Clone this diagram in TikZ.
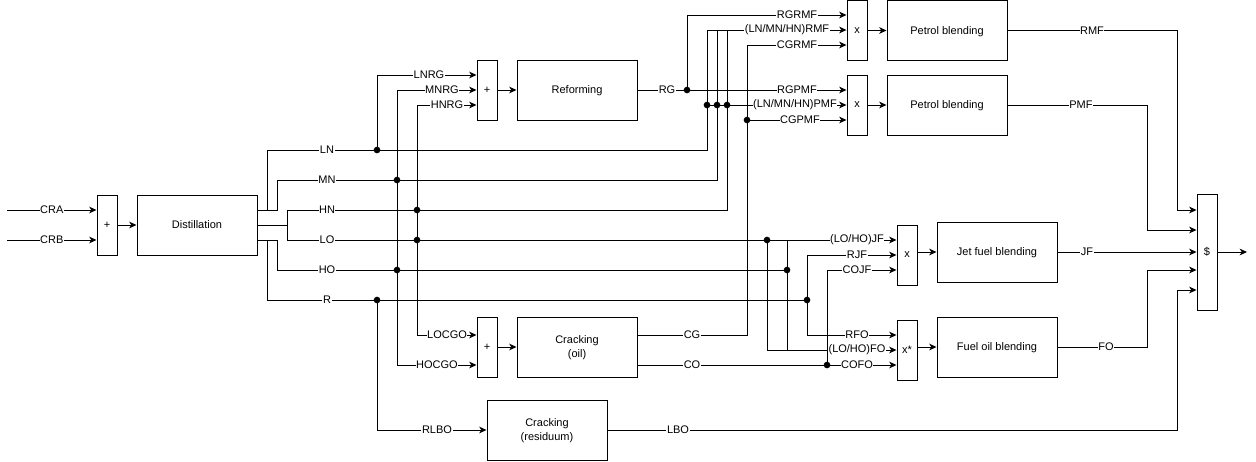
\documentclass[tikz,border=0pt]{standalone}
\usepackage{fontspec}
\setmainfont{Liberation Sans}
\usetikzlibrary{arrows.meta}
\tikzset{
  every picture/.style={x=0.75pt,y=-0.75pt},
  base/.style={line width=0.75pt},
  box/.style={base,draw,fill=white,minimum width=90pt,minimum height=45pt,inner sep=0pt,align=center,text depth=0pt,font=\fontsize{8.25}{10.5}\selectfont},
  opbox/.style={base,draw,fill=white,minimum width=15pt,minimum height=45pt,inner sep=0pt,font=\fontsize{8.25}{10}\selectfont},
  wire/.style={base},
  arr/.style={base,-{Stealth[length=5.5pt,width=5pt,inset=1.6pt]}},
  lbl/.style={fill=white,inner sep=0.4pt,font=\fontsize{8.25}{10}\selectfont},
  dot/.style={circle,fill=black,inner sep=0pt,minimum size=5pt}
}
\begin{document}
\begin{tikzpicture}
\useasboundingbox (0,0) rectangle (1256,461);
% boxes
\node[opbox] (plus1) at (107,225) {+};
\node[box] (dist) at (197,225) {Distillation};
\node[opbox] (plus2) at (487,90) {+};
\node[box] (reform) at (577,90) {Reforming};
\node[opbox] (x1) at (857,30.5) {x};
\node[box] (petrol1) at (947,30.5) {Petrol blending};
\node[opbox] (x2) at (857,105) {x};
\node[box] (petrol2) at (947,105) {Petrol blending};
\node[opbox] (xj) at (907,255) {x};
\node[box] (jet) at (997,252) {Jet fuel blending};
\node[opbox] (xf) at (907,350) {x*};
\node[box] (fuel) at (997,347) {Fuel oil blending};
\node[opbox, minimum height=87pt] (dollar) at (1207,252) {\$};
\node[opbox] (plus3) at (487,347) {+};
\node[box] (crackoil) at (577,347) {Cracking\\(oil)};
\node[box] (crackres) at (547,430) {Cracking\\(residuum)};

% free ends and junctions
\coordinate (cra) at (7,210);
\coordinate (crb) at (7,240);
\coordinate (out) at (1247,252);
\coordinate (jLN) at (377,150);
\coordinate (jMN) at (397,180);
\coordinate (jHN) at (417,210);
\coordinate (jLO) at (417,240);
\coordinate (jHO) at (397,270);
\coordinate (jR) at (377,300);
\coordinate (jRG) at (687,90);
\coordinate (jP1) at (707,105);
\coordinate (jP2) at (717,105);
\coordinate (jP3) at (727,105);
\coordinate (jCG) at (747,120);
\coordinate (jLO2) at (767,240);
\coordinate (jHO2) at (787,270);
\coordinate (jR2) at (807,300);
\coordinate (jCO) at (827,365);

% feed
\draw[arr] (cra) -- (cra -| plus1.west) node[lbl,pos=0.5] {CRA};
\draw[arr] (crb) -- (crb -| plus1.west) node[lbl,pos=0.5] {CRB};
\draw[arr] (plus1.east) -- (dist.west);

% distillation outputs
\draw[wire] (257,210) -- (267,210) -- (267,150) -- (707,150) -- (707,30);
\draw[wire] (257,210) -- (277,210) -- (277,180) -- (717,180) -- (717,30);
\draw[wire] (257,225) -- (287,225) -- (287,210) -- (727,210) -- (727,30);
\draw[arr] (257,225) -- (287,225) -- (287,240) -- (xj.west |- 0,240);
\draw[wire] (257,240) -- (277,240) -- (277,270) -- (jHO2);
\draw[wire] (257,240) -- (267,240) -- (267,300) -- (jR2);
\node[lbl] at (327,150) {LN};
\node[lbl] at (327,180) {MN};
\node[lbl] at (327,210) {HN};
\node[lbl] at (327,240) {LO};
\node[lbl] at (327,270) {HO};
\node[lbl] at (327,300) {R};

% to reforming
\draw[arr] (jLN) -- (377,75) -- (plus2.west |- 0,75);
\draw[arr] (397,365) -- (397,90) -- (plus2.west |- 0,90);
\draw[arr] (417,335) -- (417,105) -- (plus2.west |- 0,105);
\node[lbl] at (429,75) {LNRG};
\node[lbl] at (442,90) {MNRG};
\node[lbl] at (447,105) {HNRG};
\draw[arr] (plus2.east) -- (reform.west);

% to cracking oil
\draw[arr] (jLO) -- (417,335) -- (plus3.west |- 0,335);
\draw[arr] (jHO) -- (397,365) -- (plus3.west |- 0,365);
\node[lbl] at (447,335) {LOCGO};
\node[lbl] at (437,365) {HOCGO};
\draw[arr] (plus3.east) -- (crackoil.west);

% to cracking residuum
\draw[arr] (jR) -- (377,430) -- (crackres.west);
\node[lbl] at (437,430) {RLBO};

% reformate
\draw[arr] (reform.east) -- (x2.west |- 0,90);
\draw[arr] (jRG) -- (687,15) -- (x1.west |- 0,15);
\node[lbl] at (667,90) {RG};
\node[lbl] at (797,90) {RGPMF};
\node[lbl] at (797,15) {RGRMF};

% naphtha to petrol
\draw[arr] (707,30) -- (x1.west |- 0,30);
\draw[arr] (jP1) -- (x2.west |- 0,105);
\node[lbl] at (787,30) {(LN/MN/HN)RMF};
\node[lbl] at (795,105) {(LN/MN/HN)PMF};

% cracked gasoline
\draw[arr] (crackoil.east |- 0,335) -- (747,335) -- (747,45) -- (x1.west |- 0,45);
\draw[arr] (jCG) -- (x2.west |- 0,120);
\node[lbl] at (692,335) {CG};
\node[lbl] at (797,45) {CGRMF};
\node[lbl] at (800,120) {CGPMF};

% cracked oil
\draw[arr] (crackoil.east |- 0,365) -- (xf.west |- 0,365);
\draw[arr] (jCO) -- (827,270) -- (xj.west |- 0,270);
\node[lbl] at (692,365) {CO};
\node[lbl] at (857,365) {COFO};
\node[lbl] at (857,270) {COJF};

% LO / HO / R to jet fuel and fuel oil
\draw[arr] (jLO2) -- (767,350) -- (xf.west |- 0,350);
\draw[wire] (787,240) -- (787,350);
\draw[arr] (807,255) -- (xj.west |- 0,255);
\draw[arr] (807,255) -- (807,335) -- (xf.west |- 0,335);
\node[lbl] at (857,240) {(LO/HO)JF};
\node[lbl] at (857,255) {RJF};
\node[lbl] at (857,335) {RFO};
\node[lbl] at (857,350) {(LO/HO)FO};

% mixers to blending
\draw[arr] (x1.east) -- (petrol1.west);
\draw[arr] (x2.east) -- (petrol2.west);
\draw[arr] (xj.east |- jet.west) -- (jet.west);
\draw[arr] (xf.east |- fuel.west) -- (fuel.west);

% products to $
\draw[arr] (petrol1.east) -- (1177,30.5) -- (1177,210) -- (dollar.west |- 0,210);
\draw[arr] (petrol2.east) -- (1147,105) -- (1147,230) -- (dollar.west |- 0,230);
\draw[arr] (jet.east) -- (dollar.west |- jet.east);
\draw[arr] (fuel.east) -- (1147,347) -- (1147,270) -- (dollar.west |- 0,270);
\draw[arr] (crackres.east) -- (1177,430) -- (1177,290) -- (dollar.west |- 0,290);
\draw[arr] (dollar.east |- out) -- (out);
\node[lbl] at (1092,30.5) {RMF};
\node[lbl] at (1081,105) {PMF};
\node[lbl] at (1087,252) {JF};
\node[lbl] at (1106,347) {FO};
\node[lbl] at (678,430) {LBO};

% junction dots
\foreach \p in {jLN,jMN,jHN,jLO,jHO,jR,jRG,jP1,jP2,jP3,jCG,jLO2,jHO2,jR2,jCO}
  \node[dot] at (\p) {};
\end{tikzpicture}
\end{document}
